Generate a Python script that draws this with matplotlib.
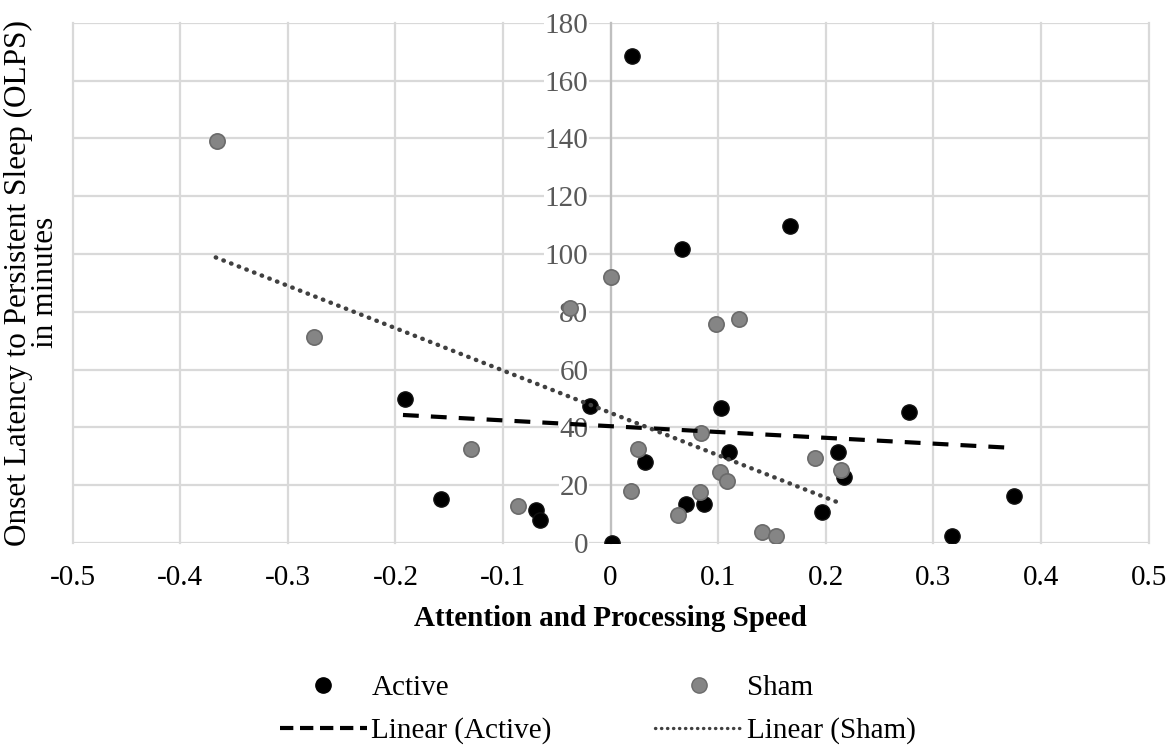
import numpy as np
import matplotlib
matplotlib.use("Agg")
import matplotlib.pyplot as plt
from matplotlib.lines import Line2D

# ---- data ----
active_x = [-0.191, -0.158, -0.069, -0.066, -0.019, 0.001, 0.0195, 0.032, 0.0668, 0.070,
            0.087, 0.103, 0.110, 0.167, 0.196, 0.211, 0.217, 0.277, 0.317, 0.375]
active_y = [49.7, 15.3, 11.5, 8.1, 47.4, 0.0, 168.6, 28.2, 101.7, 13.4,
            13.6, 46.7, 31.6, 109.7, 10.7, 31.5, 23.0, 45.2, 2.6, 16.1]

sham_x = [-0.366, -0.276, -0.130, -0.086, -0.038, 0.0007, 0.019, 0.025, 0.063, 0.083,
          0.084, 0.098, 0.102, 0.108, 0.119, 0.141, 0.154, 0.190, 0.214]
sham_y = [139.2, 71.4, 32.6, 12.7, 81.2, 92.2, 18.1, 32.5, 9.6, 17.5,
          38.2, 75.6, 24.4, 21.4, 77.5, 3.8, 2.5, 29.3, 25.3]

# trendline end points (Excel linear trendlines)
trend_active_x = [-0.193, 0.369]
trend_active_y = [44.3, 33.0]
trend_sham_x = [-0.367, 0.211]
trend_sham_y = [98.8, 14.1]

x_ticks = [-0.5, -0.4, -0.3, -0.2, -0.1, 0, 0.1, 0.2, 0.3, 0.4, 0.5]
x_labels = ["-0.5", "-0.4", "-0.3", "-0.2", "-0.1", "0", "0.1", "0.2", "0.3", "0.4", "0.5"]
y_ticks = [0, 20, 40, 60, 80, 100, 120, 140, 160, 180]

plt.rcParams['font.family'] = ['Liberation Serif', 'DejaVu Serif']
FS = 21

# line styles
ACT_DASH = (3.8, 2.9)
SHAM_DOT = (0, (0.1, 1.75))

fig = plt.figure(figsize=(11.7, 7.54), dpi=100)
ax = fig.add_axes([0.0621, 0.2798, 0.9196, 0.6901])

ax.set_xlim(-0.5, 0.5)
ax.set_ylim(0, 180)
ax.set_xticks(x_ticks)
ax.set_xticklabels(x_labels)
ax.set_yticks(y_ticks)

ax.grid(True, color='#d9d9d9', linewidth=1.6)
ax.set_axisbelow(True)
for g in ax.get_xgridlines() + ax.get_ygridlines():
    g.set_clip_on(False)

for s in ['top', 'right', 'bottom']:
    ax.spines[s].set_visible(False)
ax.spines['left'].set_position(('data', 0))
ax.spines['left'].set_color('#bfbfbf')
ax.spines['left'].set_linewidth(1.6)

ax.tick_params(axis='both', length=0, labelsize=FS)
ax.tick_params(axis='x', pad=16, labelcolor='black')
ax.tick_params(axis='y', pad=16, labelcolor='#595959')
for lab in ax.get_yticklabels():
    lab.set_bbox(dict(facecolor='white', edgecolor='none', pad=0.5))

# points
ax.plot(active_x, active_y, 'o', color='black', markersize=11, markeredgecolor='#111111',
        label='Active', zorder=3)
ax.plot(sham_x, sham_y, 'o', color='#858585', markersize=11, markeredgecolor='#6b6b6b',
        markeredgewidth=1.2, label='Sham', zorder=3)

# trendlines
ax.plot(trend_active_x, trend_active_y, color='black', linewidth=3.0,
        dashes=ACT_DASH, label='Linear (Active)', zorder=4)
ax.plot(trend_sham_x, trend_sham_y, color='#404040', linewidth=3.2,
        linestyle=SHAM_DOT, dash_capstyle='round', label='Linear (Sham)', zorder=4)

ax.set_xlabel('Attention and Processing Speed', fontsize=FS, fontweight='bold', labelpad=10)
ax.set_ylabel('Onset Latency to Persistent Sleep (OLPS)\nin minutes', fontsize=22.5,
              linespacing=0.9)
ax.yaxis.set_label_coords(-0.012, 0.5)

handles = [
    Line2D([], [], marker='o', linestyle='none', color='black', markersize=11),
    Line2D([], [], color='black', linewidth=3.0, dashes=(3.2, 1.6)),
    Line2D([], [], marker='o', linestyle='none', color='#858585', markeredgecolor='#6b6b6b',
           markersize=11),
    Line2D([], [], color='#404040', linewidth=2.4, linestyle=(0, (0.1, 1.7)),
           dash_capstyle='round'),
]
labels = ['Active', 'Linear (Active)', 'Sham', 'Linear (Sham)']
fig.legend(handles, labels, loc='center', bbox_to_anchor=(0.511, 0.059), ncol=2,
           frameon=False, fontsize=FS, handlelength=3.0, handletextpad=0.15,
           columnspacing=3.55, labelspacing=0.55)

fig.savefig('out.png', dpi=100)
